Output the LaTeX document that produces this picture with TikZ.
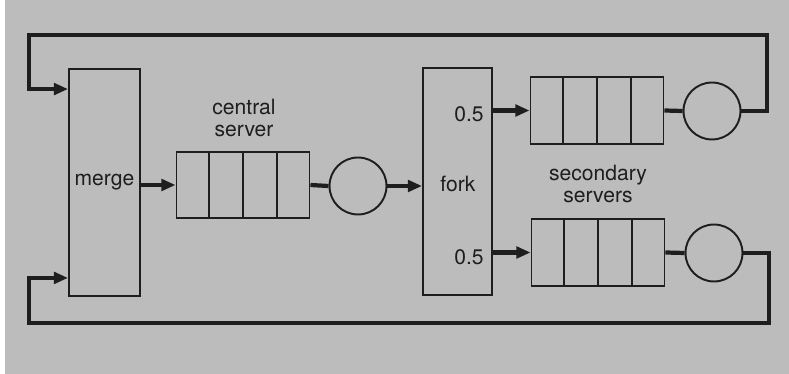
\documentclass[tikz,border=0pt]{standalone}
\usepackage{fontspec}
\setmainfont{TeX Gyre Heros}
\usetikzlibrary{arrows.meta,calc}
\definecolor{paper}{RGB}{188,188,188}
\definecolor{ink}{RGB}{30,30,30}

\begin{document}
\begin{tikzpicture}[x=0.02cm,y=-0.02cm,
    font=\fontsize{12}{12.5}\selectfont,
    every node/.style={text=ink},
    box/.style={draw=ink,line width=1.1pt,rectangle,inner sep=0pt},
    joinbox/.style={box,minimum width=1.42cm,minimum height=4.54cm},
    queue/.style={box,minimum width=2.66cm,minimum height=1.33cm},
    server/.style={draw=ink,line width=1.1pt,circle,inner sep=0pt,minimum size=1.14cm},
    flow/.style={draw=ink,line width=2.4pt},
    lbl/.style={align=center,inner sep=0pt}]
\tikzset{>={Triangle[length=8pt,width=6.5pt]}}
\useasboundingbox (0,0) rectangle (789,374);
\fill[paper] (5,0) rectangle (789,374);

\node[joinbox] (merge) at (104.5,182.5) {merge};
\node[queue] (cq) at (243,185) {};
\node[server] (cs) at (358,186) {};
\node[joinbox,minimum width=1.38cm] (fork) at (457.5,181.5) {};
\node[lbl] at (458,184) {fork};
\node[queue] (q1) at (597,110.5) {};
\node[server] (s1) at (712,111) {};
\node[queue] (q2) at (598,252.5) {};
\node[server] (s2) at (714,253) {};

\foreach \q in {cq,q1,q2}
  \foreach \i in {1,2,3}
    \draw[ink,line width=0.9pt] ($(\q.north west)!\i/4!(\q.north east)$) -- ($(\q.south west)!\i/4!(\q.south east)$);

\node[lbl] (cslabel) at (244,118) {central\\server};
\node[lbl] (sslabel) at (598,184) {secondary\\servers};
\node[lbl,anchor=east] (p1) at (484,114) {0.5};
\node[lbl,anchor=east] (p2) at (484,257) {0.5};

\draw[flow,->] (merge.east |- cq) -- (cq.west);
\draw[flow] (cq.east) -- (cs.west);
\draw[flow,->] (cs.east) -- (fork.west |- cs);
\draw[flow,->] (fork.east |- q1) -- (q1.west);
\draw[flow,->] (fork.east |- q2) -- (q2.west);
\draw[flow] (q1.east) -- (s1.west);
\draw[flow] (q2.east) -- (s2.west);

\coordinate (topin) at ($(merge.north west)+(0,21)$);
\coordinate (botin) at ($(merge.south west)+(0,-19)$);
\draw[flow,->] (s1.east) -- (767,111) -- (767,35) -- (29,35) -- (29,0 |- topin) -- (topin);
\draw[flow,->] (s2.east) -- (769,253) -- (769,323) -- (29,323) -- (29,0 |- botin) -- (botin);
\end{tikzpicture}
\end{document}
